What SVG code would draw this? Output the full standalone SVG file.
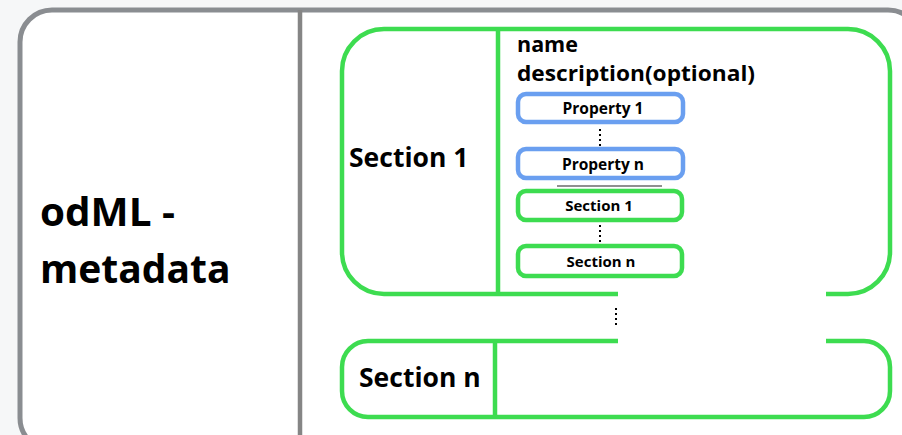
<svg xmlns="http://www.w3.org/2000/svg" width="902" height="435" viewBox="0 0 902 435">
<style>
.g{fill:none;stroke:#3ddc50;stroke-width:4.5}
.b{fill:#fff;stroke:#6a9ff0;stroke-width:4.5}
.gi{fill:#fff;stroke:#3ddc50;stroke-width:4.5}
text{font-family:"Open Sans","Liberation Sans",sans-serif;font-weight:bold;fill:#000}
.dot{stroke:#000;stroke-width:2;stroke-dasharray:2 3}
</style>
<rect width="902" height="435" fill="#f6f7f8"/>
<g id="root">
<rect x="20" y="10" width="900" height="440" rx="32" fill="#fff" stroke="#8a8d91" stroke-width="5"/>
<line x1="300" y1="10" x2="300" y2="435" stroke="#858585" stroke-width="4.5"/>
<text x="40" y="226" font-size="39" textLength="135" lengthAdjust="spacingAndGlyphs">odML -</text>
<text x="40" y="283" font-size="39">metadata</text>
</g>
<g id="section1">
<rect class="g" x="342" y="29" width="548" height="265" rx="42"/>
<line class="g" x1="498" y1="29" x2="498" y2="294"/>
<text x="349" y="167" font-size="26.5">Section 1</text>
<text x="517" y="52" font-size="21.5">name</text>
<text x="517" y="81" font-size="21.5" textLength="238" lengthAdjust="spacingAndGlyphs">description(optional)</text>
</g>
<g id="property1">
<rect class="b" x="518" y="94" width="165" height="28" rx="8"/>
<text x="603" y="114" font-size="15.5" text-anchor="middle">Property 1</text>
</g>
<g id="propertyn">
<rect class="b" x="518" y="149" width="165" height="29" rx="8"/>
<text x="603" y="170" font-size="15.5" text-anchor="middle">Property n</text>
</g>
<g id="subsection1">
<rect class="gi" x="518" y="191" width="164" height="29" rx="8"/>
<text x="599" y="211" font-size="15" text-anchor="middle">Section 1</text>
</g>
<g id="subsectionn">
<rect class="gi" x="518" y="246" width="164" height="30" rx="8"/>
<text x="601" y="267" font-size="15" text-anchor="middle">Section n</text>
</g>
<g id="sectionn">
<rect class="g" x="342" y="341" width="548" height="76" rx="26"/>
<line class="g" x1="495" y1="341" x2="495" y2="417"/>
<text x="359" y="387" font-size="26.5">Section n</text>
</g>
<rect x="618" y="288" width="208" height="56" fill="#fff"/>
<g id="connectors">
<line class="dot" x1="600" y1="129" x2="600" y2="146"/>
<line x1="557" y1="186" x2="662" y2="186" stroke="#222" stroke-width="1.2"/>
<line class="dot" x1="600" y1="225" x2="600" y2="242"/>
<line class="dot" x1="616" y1="308" x2="616" y2="326"/>
</g>
</svg>
